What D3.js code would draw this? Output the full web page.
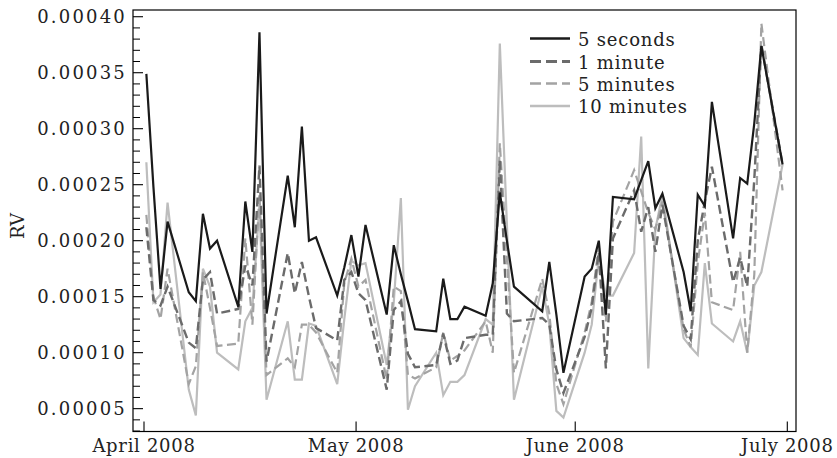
<!DOCTYPE html>
<html><head><meta charset="utf-8">
<script src="https://cdn.jsdelivr.net/npm/d3@7"></script>
<style>body{margin:0;background:#fff}</style>
</head><body><svg id="c" width="837" height="458"></svg>
<script>
const dates = ["2008-04-01","2008-04-02","2008-04-03","2008-04-04","2008-04-07","2008-04-08","2008-04-09","2008-04-10","2008-04-11","2008-04-14","2008-04-15","2008-04-16","2008-04-17","2008-04-18","2008-04-21","2008-04-22","2008-04-23","2008-04-24","2008-04-25","2008-04-28","2008-04-29","2008-04-30",
"2008-05-01","2008-05-02","2008-05-05","2008-05-06","2008-05-07","2008-05-08","2008-05-09","2008-05-12","2008-05-13","2008-05-14","2008-05-15","2008-05-16","2008-05-19","2008-05-20","2008-05-21","2008-05-22","2008-05-23","2008-05-27","2008-05-28","2008-05-29","2008-05-30",
"2008-06-02","2008-06-03","2008-06-04","2008-06-05","2008-06-06","2008-06-09","2008-06-10","2008-06-11","2008-06-12","2008-06-13","2008-06-16","2008-06-17","2008-06-18","2008-06-19","2008-06-20","2008-06-23","2008-06-24","2008-06-25","2008-06-26","2008-06-27","2008-06-30"];

const fiveSeconds = [0.000349,0.000248,0.000157,0.000217,0.000154,0.000146,0.000224,0.000193,0.000200,0.000141,0.000235,0.000190,0.000386,0.000135,0.000258,0.000212,0.000302,0.000200,0.000203,0.000151,0.000176,0.000205,
0.000168,0.000214,0.000134,0.000196,0.000170,0.000146,0.000121,0.000119,0.000166,0.000130,0.000130,0.000141,0.000133,0.000162,0.000243,0.000200,0.000159,0.000137,0.000181,0.000134,0.000082,
0.000168,0.000175,0.000200,0.000134,0.000239,0.000237,0.000254,0.000271,0.000229,0.000242,0.000172,0.000137,0.000241,0.000231,0.000324,0.000202,0.000256,0.000251,0.000305,0.000374,0.000268];

const oneMinute = [0.000212,0.000147,0.000142,0.000159,0.000109,0.000104,0.000165,0.000172,0.000135,0.000139,0.000178,0.000160,0.000267,0.000092,0.000189,0.000153,0.000181,0.000150,0.000122,0.000111,0.000165,0.000172,
0.000153,0.000147,0.000067,0.000138,0.000146,0.000099,0.000087,0.000089,0.000117,0.000090,0.000093,0.000113,0.000116,0.000116,0.000272,0.000135,0.000128,0.000131,0.000125,0.000085,0.000064,
0.000114,0.000140,0.000190,0.000086,0.000202,0.000245,0.000208,0.000230,0.000190,0.000232,0.000124,0.000112,0.000200,0.000235,0.000266,0.000163,0.000185,0.000159,0.000255,0.000375,0.000268];

const fiveMinutes = [0.000223,0.000150,0.000130,0.000175,0.000072,0.000088,0.000172,0.000140,0.000106,0.000108,0.000202,0.000125,0.000242,0.000080,0.000095,0.000087,0.000125,0.000125,0.000118,0.000082,0.000162,0.000184,
0.000159,0.000165,0.000076,0.000159,0.000155,0.000080,0.000077,0.000087,0.000118,0.000093,0.000097,0.000102,0.000128,0.000100,0.000287,0.000185,0.000082,0.000166,0.000135,0.000072,0.000054,
0.000118,0.000145,0.000195,0.000128,0.000217,0.000263,0.000244,0.000225,0.000210,0.000235,0.000121,0.000105,0.000180,0.000225,0.000145,0.000138,0.000190,0.000100,0.000170,0.000394,0.000245];

const tenMinutes = [0.000270,0.000145,0.000152,0.000234,0.000067,0.000044,0.000175,0.000159,0.000100,0.000085,0.000128,0.000140,0.000232,0.000058,0.000128,0.000076,0.000076,0.000126,0.000124,0.000072,0.000130,0.000182,
0.000178,0.000180,0.000089,0.000145,0.000238,0.000049,0.000070,0.000100,0.000062,0.000074,0.000074,0.000080,0.000130,0.000125,0.000376,0.000215,0.000058,0.000159,0.000125,0.000048,0.000042,
0.000100,0.000125,0.000185,0.000151,0.000151,0.000189,0.000293,0.000086,0.000210,0.000241,0.000113,0.000105,0.000098,0.000180,0.000126,0.000110,0.000128,0.000100,0.000160,0.000172,0.000268];

const seriesNames = ["5 seconds","1 minute","5 minutes","10 minutes"];
const yTickValues = [0.00005,0.00010,0.00015,0.00020,0.00025,0.00030,0.00035,0.00040];
const yMinorTicks = [0.00003,0.00004,0.00006,0.00007,0.00008,0.00009,0.00011,0.00012,0.00013,0.00014,0.00016,0.00017,0.00018,0.00019,0.00021,0.00022,0.00023,0.00024,0.00026,0.00027,0.00028,0.00029,0.00031,0.00032,0.00033,0.00034,0.00036,0.00037,0.00038,0.00039];
const xTickDates = ["2008-04-01","2008-05-01","2008-06-01","2008-07-01"];
const xTickLabels = ["April 2008","May 2008","June 2008","July 2008"];

const styles = [
  {color:"#1a1a1a", dash:null, w:2.2},
  {color:"#6b6b6b", dash:"9,4.5", w:2.4},
  {color:"#a3a3a3", dash:"9,4.5", w:2.2},
  {color:"#bdbdbd", dash:null, w:2.2}
];

const L=133, R=796, T=10, B=431.5;
const parse = d3.utcParse("%Y-%m-%d");
const HOUR = 3600*1000;
const x = d3.scaleUtc().domain([parse("2008-04-01"), parse("2008-07-01")]).range([144, 787.3]);
const y = d3.scaleLinear().domain([0.0000296, 0.000406]).range([B, T]);

const svg = d3.select("#c");
const font = "DejaVu Serif";

const allSeries = [fiveSeconds, oneMinute, fiveMinutes, tenMinutes];
const line = d3.line().x(d => x(d.t)).y(d => y(d.v));

// draw from lightest (back) to darkest (front)
[3,2,1,0].forEach(i => {
  const data = dates.map((d, k) => ({t: new Date(parse(d).getTime() + 8*HOUR), v: allSeries[i][k]}));
  svg.append("path").datum(data)
    .attr("d", line)
    .attr("fill","none")
    .attr("stroke", styles[i].color)
    .attr("stroke-width", styles[i].w)
    .attr("stroke-dasharray", styles[i].dash)
    .attr("stroke-linejoin","miter");
});

// frame
svg.append("rect").attr("x",L).attr("y",T).attr("width",R-L).attr("height",B-T)
  .attr("fill","none").attr("stroke","#000").attr("stroke-width",1.2);

// y axis ticks (inward)
const yAxis = svg.append("g");
yMinorTicks.forEach(v => {
  yAxis.append("line").attr("x1",L).attr("x2",L+7).attr("y1",y(v)).attr("y2",y(v)).attr("stroke","#000").attr("stroke-width",1);
});
yTickValues.forEach(v => {
  yAxis.append("line").attr("x1",L).attr("x2",L+10).attr("y1",y(v)).attr("y2",y(v)).attr("stroke","#000").attr("stroke-width",1.1);
  yAxis.append("text").attr("x",L-6).attr("y",y(v)+6.5).attr("text-anchor","end")
    .attr("font-family",font).attr("font-size",18).attr("letter-spacing","2.2px").attr("fill","#222")
    .text(d3.format(".5f")(v));
});

// x axis ticks
xTickDates.forEach((d, i) => {
  const xx = x(parse(d));
  svg.append("line").attr("x1",xx).attr("x2",xx).attr("y1",B).attr("y2",B-10).attr("stroke","#000").attr("stroke-width",1.1);
  svg.append("text").attr("x",xx).attr("y",452).attr("text-anchor","middle")
    .attr("font-family",font).attr("font-size",18).attr("letter-spacing","0.7px").attr("fill","#222")
    .text(xTickLabels[i]);
});

// y label
svg.append("text").attr("transform","translate(24,226) rotate(-90)").attr("text-anchor","middle")
  .attr("font-family",font).attr("font-size",18).attr("fill","#222").text("RV");

// legend
const legY = [38.5, 61.5, 83.5, 106];
seriesNames.forEach((n, i) => {
  svg.append("line").attr("x1",530).attr("x2",570).attr("y1",legY[i]).attr("y2",legY[i])
    .attr("stroke",styles[i].color).attr("stroke-width",styles[i].w+0.4).attr("stroke-dasharray",styles[i].dash ? "11,5" : null);
  svg.append("text").attr("x",578).attr("y",legY[i]+7).attr("font-family",font).attr("font-size",18)
    .attr("letter-spacing","0.8px").attr("fill","#222").text(n);
});
</script></body></html>
